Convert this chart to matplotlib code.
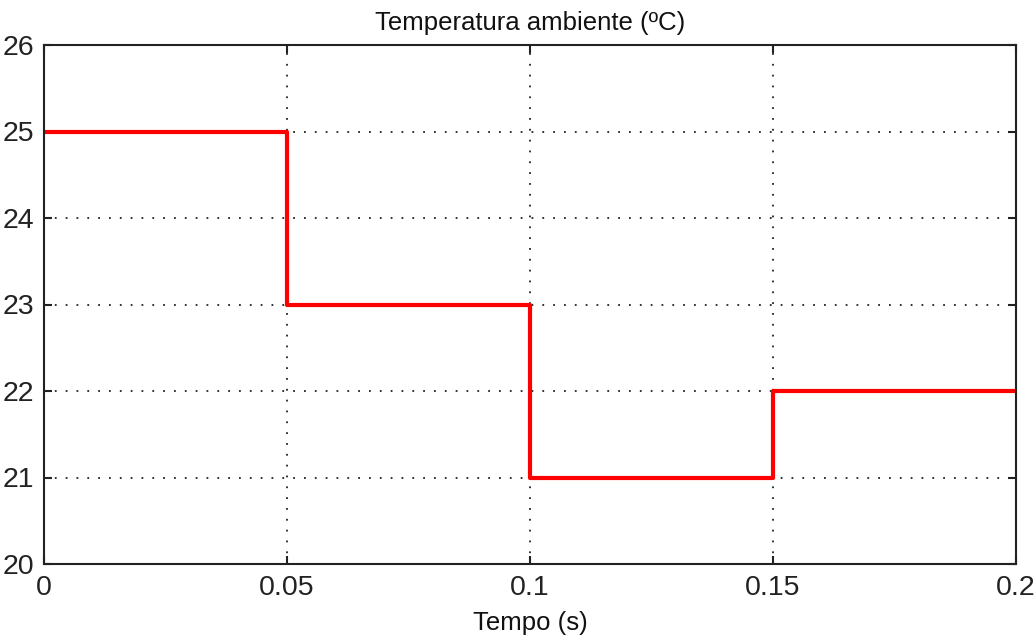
import matplotlib
matplotlib.use("Agg")
import matplotlib.pyplot as plt

# Ambient temperature setpoint steps
tiempo = [0.0, 0.05, 0.10, 0.15, 0.20]
temperatura = [25, 23, 21, 22, 22]
xticks = [0, 0.05, 0.1, 0.15, 0.2]
xtick_labels = ["0", "0.05", "0.1", "0.15", "0.2"]
yticks = [20, 21, 22, 23, 24, 25, 26]

plt.rcParams['font.family'] = ['Liberation Sans', 'DejaVu Sans']

fig = plt.figure(figsize=(10.35, 6.4), dpi=100)
ax = fig.add_axes([44/1035, 1 - 564/640, (1016 - 44)/1035, (564 - 45)/640])

ax.step(tiempo, temperatura, where='post', color='#ff0000', linewidth=3)

ax.set_xlim(0, 0.2)
ax.set_ylim(20, 26)
ax.set_xticks(xticks)
ax.set_xticklabels(xtick_labels)
ax.set_yticks(yticks)
ax.tick_params(direction='in', length=6, width=1.5, top=True, right=True,
               labelsize=20.5, colors='#222222')
ax.tick_params(axis='x', pad=8)
ax.tick_params(axis='y', pad=7)
for s in ax.spines.values():
    s.set_linewidth(1.5)
    s.set_color('#222222')

ax.grid(True, linestyle=(0, (1, 5)), color='#222222', linewidth=1.3)

ax.set_title("Temperatura ambiente (ºC)", fontsize=18.5, pad=11, color='#111111')
ax.set_xlabel("Tempo (s)", fontsize=18.5, labelpad=7, color='#111111')

fig.savefig("out.png", dpi=100)
